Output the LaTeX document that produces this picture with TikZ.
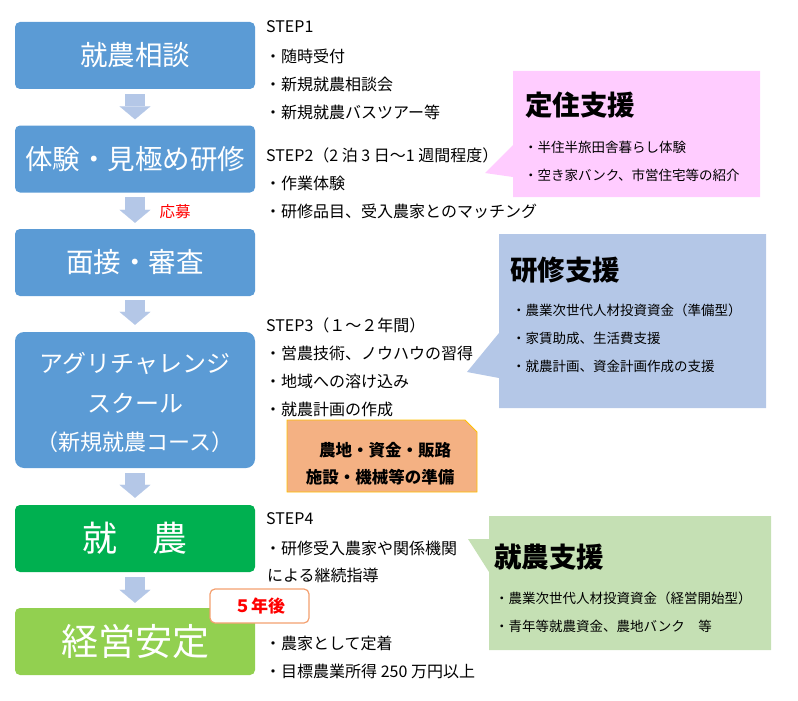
\documentclass[tikz,border=0pt]{standalone}
\usepackage{fontspec}
\setmainfont{Noto Sans CJK JP}
\usetikzlibrary{arrows.meta,positioning}

\definecolor{boxblue}{HTML}{5B9BD5}
\definecolor{boxgreen}{HTML}{00B050}
\definecolor{boxlime}{HTML}{92D050}
\definecolor{arrblue}{HTML}{B4C7E7}
\definecolor{pinkbg}{HTML}{FFCCFF}
\definecolor{bluebg}{HTML}{B4C7E7}
\definecolor{greenbg}{HTML}{C5E0B4}
\definecolor{orangebg}{HTML}{F4B183}
\definecolor{goldline}{HTML}{FFC000}
\definecolor{tagline}{HTML}{F4A070}

\begin{document}
\begin{tikzpicture}[x=1pt, y=-1pt,
    flow/.style = {rounded corners=5pt, minimum width=240pt, minimum height=67pt,
                   inner sep=0pt, text=white, align=center,
                   font=\fontsize{27.5}{32}\selectfont},
    downarr/.style = {draw=arrblue, line width=20pt,
                      -{Triangle[length=13pt, width=31pt, line width=0.1pt]}},
    line/.style = {anchor=west, inner sep=0pt, font=\fontsize{16}{20}\selectfont},
    note/.style = {anchor=west, inner sep=0pt, font=\fontsize{13.5}{16}\selectfont},
    head/.style = {anchor=west, inner sep=0pt, font=\fontsize{27.5}{30}\selectfont\bfseries}
  ]
  \useasboundingbox (0,0) rectangle (798,701);

  % Left column.
  \node[flow, fill=boxblue] (soudan) at (135,55.5) {就農相談};
  \node[flow, fill=boxblue] (taiken) at (135,159) {体験・見極め研修};
  \node[flow, fill=boxblue] (mensetsu) at (135,262.5) {面接・審査};
  \node[flow, fill=boxblue, rounded corners=9pt, minimum height=136pt] (school) at (135,400) {};
  \node[text=white, inner sep=0pt, font=\fontsize{24}{28}\selectfont] (school1) at (135,363) {アグリチャレンジ};
  \node[text=white, inner sep=0pt, font=\fontsize{24}{28}\selectfont] (school2) at (135,403) {スクール};
  \node[text=white, inner sep=0pt, font=\fontsize{22}{26}\selectfont] (school3) at (135,442) {（新規就農コース）};
  \node[flow, fill=boxgreen, font=\fontsize{35}{40}\selectfont] (shunou) at (135,538.5) {就　農};
  \node[flow, fill=boxlime, font=\fontsize{37}{42}\selectfont] (antei) at (135,641.5) {経営安定};

  \draw[downarr] ([yshift=-5pt]soudan.south) -- ([yshift=6pt]taiken.north);
  \draw[downarr] ([yshift=-4pt]taiken.south) -- ([yshift=6pt]mensetsu.north);
  \draw[downarr] ([yshift=-4pt]mensetsu.south) -- ([yshift=7pt]school.north);
  \draw[downarr] ([yshift=-5pt]school.south) -- ([yshift=7pt]shunou.north);
  \draw[downarr] ([yshift=-5pt]shunou.south) -- ([yshift=5pt]antei.north);

  \node[text=red, inner sep=0pt, font=\fontsize{15.5}{18}\selectfont] (oubo) at (175,212) {応募};
  \node[draw=tagline, line width=1.2pt, fill=white, rounded corners=5pt,
        minimum width=99pt, minimum height=34pt, text=red,
        font=\fontsize{17}{20}\selectfont\bfseries] (gonen) at (259.5,606) {５年後};

  % Steps.
  \node[line] (s1) at (266,27) {STEP1};
  \node[line] (s1a) at (265,56) {・随時受付};
  \node[line] (s1b) at (265,84) {・新規就農相談会};
  \node[line] (s1c) at (265,112) {・新規就農バスツアー等};
  \node[line] (s2) at (266,155) {STEP2（2 泊 3 日～1 週間程度）};
  \node[line] (s2a) at (265,183) {・作業体験};
  \node[line] (s2b) at (265,211) {・研修品目、受入農家とのマッチング};
  \node[line] (s3) at (266,325) {STEP3（１～２年間）};
  \node[line] (s3a) at (265,353) {・営農技術、ノウハウの習得};
  \node[line] (s3b) at (265,381) {・地域への溶け込み};
  \node[line] (s3c) at (265,409) {・就農計画の作成};
  \node[line] (s4) at (266,519) {STEP4};
  \node[line] (s4a) at (265,548) {・研修受入農家や関係機関};
  \node[line] (s4b) at (267,575) {による継続指導};
  \node[line] (s5a) at (265,643) {・農家として定着};
  \node[line] (s5b) at (265,671) {・目標農業所得 250 万円以上};

  % Preparation box.
  \filldraw[fill=orangebg, draw=goldline, line width=0.8pt]
    (287,420) -- (465,420) -- (477,432) -- (477,492) -- (287,492) -- cycle;
  \node[inner sep=0pt, font=\fontsize{16.5}{20}\selectfont\bfseries] (jumbi1) at (385,450) {農地・資金・販路};
  \node[inner sep=0pt, font=\fontsize{16.5}{20}\selectfont\bfseries] (jumbi2) at (380,477) {施設・機械等の準備};

  % Support callouts.
  \fill[pinkbg] (513,71) -- (760,71) -- (760,197) -- (513,197) -- (513,177)
    -- (485,173) -- (513,145) -- cycle;
  \node[head] (teiju) at (525,105) {定住支援};
  \node[note] (teiju1) at (524,147) {・半住半旅田舎暮らし体験};
  \node[note] (teiju2) at (524,175) {・空き家バンク、市営住宅等の紹介};

  \fill[bluebg] (499,234) -- (766,234) -- (766,408) -- (499,408) -- (499,378)
    -- (467,372) -- (499,333) -- cycle;
  \node[head] (kenshu) at (510,270) {研修支援};
  \node[note] (kenshu1) at (512,310) {・農業次世代人材投資資金（準備型）};
  \node[note] (kenshu2) at (512,338) {・家賃助成、生活費支援};
  \node[note] (kenshu3) at (512,366) {・就農計画、資金計画作成の支援};

  \fill[greenbg] (489,516) -- (771,516) -- (771,650) -- (489,650) -- (489,572)
    -- (468,539) -- (489,539) -- cycle;
  \node[head] (shien) at (494,557) {就農支援};
  \node[note] (shien1) at (495,598) {・農業次世代人材投資資金（経営開始型）};
  \node[note] (shien2) at (495,626) {・青年等就農資金、農地バンク　等};
\end{tikzpicture}
\end{document}
